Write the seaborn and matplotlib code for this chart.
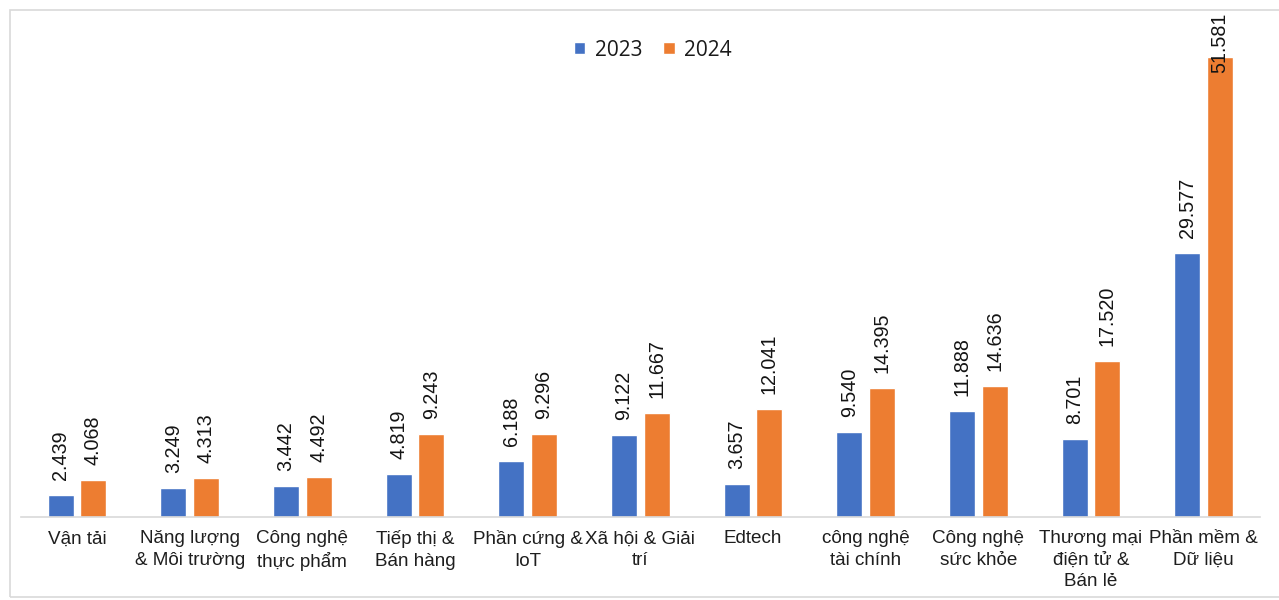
import matplotlib
matplotlib.use("Agg")
import matplotlib.pyplot as plt
import matplotlib.patches as mpatches
import seaborn as sns
import pandas as pd

categories = [
    "Vận tải", "Năng lượng\n& Môi trường", "Công nghệ\nthực phẩm", "Tiếp thị &\nBán hàng",
    "Phần cứng &\nIoT", "Xã hội & Giải\ntrí", "Edtech", "công nghệ\ntài chính",
    "Công nghệ\nsức khỏe", "Thương mại\nđiện tử &\nBán lẻ", "Phần mềm &\nDữ liệu",
]
years = ["2023", "2024"]
values_2023 = [2.439, 3.249, 3.442, 4.819, 6.188, 9.122, 3.657, 9.540, 11.888, 8.701, 29.577]
values_2024 = [4.068, 4.313, 4.492, 9.243, 9.296, 11.667, 12.041, 14.395, 14.636, 17.520, 51.581]
colors = ["#4472C4", "#ED7D31"]

df = pd.DataFrame({
    "cat": categories * 2,
    "year": [years[0]] * len(categories) + [years[1]] * len(categories),
    "value": values_2023 + values_2024,
})

sns.set_theme(style="white")
plt.rcParams["font.family"] = ["Liberation Sans", "DejaVu Sans"]

W, H = 1279, 600
fig = plt.figure(figsize=(W / 100, H / 100), dpi=100)
ax_left, ax_right = 20.7 / W, 1260 / W
ax_bottom, ax_top = (H - 516.5) / H, (H - 10) / H
ax = fig.add_axes([ax_left, ax_bottom, ax_right - ax_left, ax_top - ax_bottom])

# chart frame
fig.patches.append(mpatches.Rectangle((10 / W, 3 / H), 1.2, (597 - 10) / H,
                                      transform=fig.transFigure, fill=False,
                                      edgecolor="#d9d9d9", linewidth=1.2, zorder=0))

sns.barplot(data=df, x="cat", y="value", hue="year", palette=colors,
            width=0.58, gap=0.2, ax=ax, saturation=1, legend=True)

ymax = max(values_2024) * 1.103
ax.set_ylim(0, ymax)
ax.set_xlim(-0.5, len(categories) - 0.5)

ax_h_px = (ax_top - ax_bottom) * H
ppu = ax_h_px / ymax
pad = 15 / ppu
cap = ymax - (12 + 51) / ppu

series = [values_2023, values_2024]
for cont, vals in zip(ax.containers, series):
    for bar, v in zip(cont.patches, vals):
        x = bar.get_x() + bar.get_width() / 2
        y = min(v + pad, cap)
        ax.text(x, y, f"{v:.3f}", rotation=90, ha="center", va="bottom",
                fontsize=14.2, color="#141414", zorder=5)

ax.set_xlabel("")
ax.set_ylabel("")
ax.set_yticks([])
for s in ["top", "right", "left"]:
    ax.spines[s].set_visible(False)
ax.spines["bottom"].set_color("#d9d9d9")
ax.spines["bottom"].set_linewidth(1.2)
ax.tick_params(axis="x", length=0, pad=10, labelsize=13.6, labelcolor="#1e1e1e")
for lbl in ax.get_xticklabels():
    lbl.set_linespacing(1.32)

leg = ax.legend(loc="center", bbox_to_anchor=(0.51, (516.5 - 50) / ax_h_px), ncol=2,
                frameon=False, handlelength=0.55, handleheight=0.55, handletextpad=0.45,
                columnspacing=1.0, prop={"family": ["Open Sans", "DejaVu Sans"], "size": 15})
for t in leg.get_texts():
    t.set_color("#1a1a1a")

fig.savefig("out.png", dpi=100, facecolor="white")
